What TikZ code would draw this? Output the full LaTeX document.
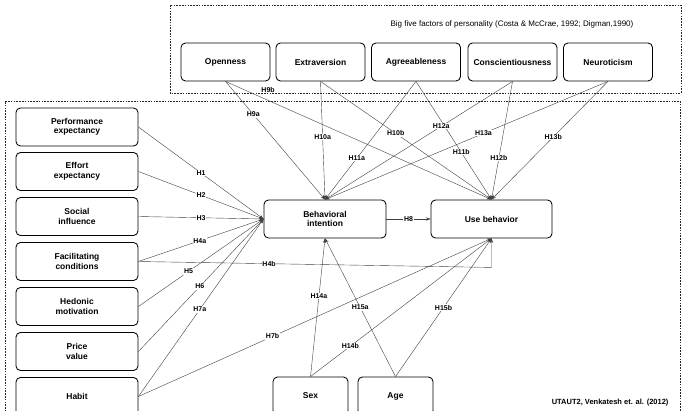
\documentclass[tikz,border=0pt]{standalone}
\usepackage{fontspec}
\setmainfont{Liberation Sans}
\usetikzlibrary{arrows.meta}
\begin{document}
\begin{tikzpicture}[x=1pt,y=-1pt,
 box/.style={draw=black, line width=0.85pt, rounded corners=4.5pt, align=center, font=\fontsize{8.5}{9.5}\selectfont\bfseries, inner sep=0pt},
 lbox/.style={box, minimum width=122pt, minimum height=38pt},
 pbox/.style={box, minimum width=89pt, minimum height=38pt},
 dbox/.style={box, minimum width=75pt, minimum height=38pt},
 link/.style={draw=black!75, line width=0.4pt, -{Stealth[length=4.5pt,width=3.2pt]}},
 hl/.style={fill=white, inner sep=0.6pt, font=\fontsize{7}{7.5}\selectfont\bfseries},
 frame/.style={draw=black!85, line width=0.5pt, dash pattern=on 1.6pt off 1.2pt}]
\useasboundingbox (0,0) rectangle (685,411);

% frames
\draw[frame] (170,5) rectangle (681,93);
\draw[frame] (5,420) -- (5,101) -- (680,101) -- (680,420);
\node[font=\fontsize{8}{9}\selectfont] (title) at (512,24) {Big five factors of personality (Costa \& McCrae, 1992; Digman,1990)};
\node[font=\fontsize{7.5}{8.5}\selectfont\bfseries, anchor=east] (src) at (672,403) {UTAUT2, Venkatesh et. al. (2012)};

% personality
\node[pbox] (op) at (225.5,62) {Openness};
\node[pbox] (ex) at (320.5,62) {Extraversion};
\node[pbox] (ag) at (416,62) {Agreeableness};
\node[pbox] (co) at (512.5,62) {Conscientiousness};
\node[pbox] (ne) at (608,62) {Neuroticism};

% left constructs
\node[lbox] (pe) at (77,127) {Performance\\expectancy};
\node[lbox] (ee) at (77,171.5) {Effort\\expectancy};
\node[lbox] (si) at (77,216.5) {Social\\influence};
\node[lbox] (fc) at (77,261.5) {Facilitating\\conditions};
\node[lbox] (hm) at (77,306.5) {Hedonic\\motivation};
\node[lbox] (pv) at (77,351.5) {Price\\value};
\node[lbox] (hb) at (77,396.5) {Habit};

% centre
\node[lbox] (bi) at (325,219) {Behavioral\\intention};
\node[lbox, minimum width=121pt] (ub) at (491.5,219) {Use behavior};

% moderators
\node[dbox] (sex) at (310.5,396) {Sex};
\node[dbox] (age) at (395.5,396) {Age};

% UTAUT2 paths
\draw[link] (pe.east) -- node[hl,pos=0.5]{H1} (bi.west);
\draw[link] (ee.east) -- node[hl,pos=0.5]{H2} (bi.west);
\draw[link] (si.east) -- node[hl,pos=0.5]{H3} (bi.west);
\draw[link] (fc.east) -- node[hl,pos=0.49]{H4a} (bi.west);
\draw[link] (fc.east) -- node[hl,pos=0.37]{H4b} ([yshift=-29pt]ub.south) -- (ub.south);
\draw[link] (hm.east) -- node[hl,pos=0.4]{H5} (bi.west);
\draw[link] (pv.east) -- node[hl,pos=0.49]{H6} (bi.west);
\draw[link] (hb.east) -- node[hl,pos=0.49]{H7a} (bi.west);
\draw[link] (hb.east) -- node[hl,pos=0.38]{H7b} (ub.south);
\draw[link] (bi.east) -- node[hl,pos=0.5]{H8} (ub.west);

% personality paths
\draw[link] (op.south) -- node[hl,pos=0.28]{H9a} (bi.north);
\draw[link] (op.south) -- node[hl,pos=0.16,yshift=10pt,fill=none]{H9b} (ub.north);
\draw[link] (ex.south) -- node[hl,pos=0.47]{H10a} (bi.north);
\draw[link] (ex.south) -- node[hl,pos=0.44]{H10b} (ub.north);
\draw[link] (ag.south) -- node[hl,pos=0.65]{H11a} (bi.north);
\draw[link] (ag.south) -- node[hl,pos=0.6]{H11b} (ub.north);
\draw[link] (co.south) -- node[hl,pos=0.38]{H12a} (bi.north);
\draw[link] (co.south) -- node[hl,pos=0.65]{H12b} (ub.north);
\draw[link] (ne.south) -- node[hl,pos=0.44]{H13a} (bi.north);
\draw[link] (ne.south) -- node[hl,pos=0.47]{H13b} (ub.north);

% moderator paths
\draw[link] (sex.north) -- node[hl,pos=0.58]{H14a} (bi.south);
\draw[link] (sex.north) -- node[hl,pos=0.22]{H14b} (ub.south);
\draw[link] (age.north) -- node[hl,pos=0.5]{H15a} (bi.south);
\draw[link] (age.north) -- node[hl,pos=0.5]{H15b} (ub.south);
\end{tikzpicture}
\end{document}
